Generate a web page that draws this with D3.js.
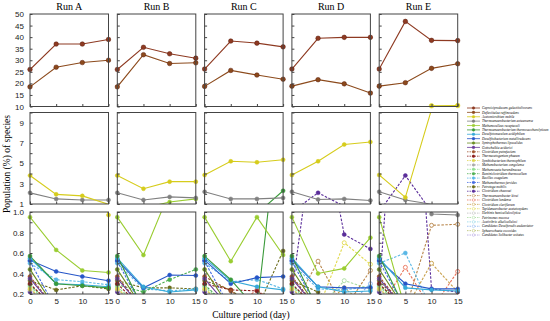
<!DOCTYPE html>
<html>
<head>
<meta charset="utf-8">
<script src="https://cdn.jsdelivr.net/npm/d3@7"></script>
<style>
  body { margin: 0; background: #fff; }
  svg { display: block; }
</style>
</head>
<body>
<div id="chart"></div>
<script>
// chart data
var runs = ['Run A', 'Run B', 'Run C', 'Run D', 'Run E'];
var days = [0, 5, 10, 15];

var species = [
  'Caproiciproducens galactitolivorans', 'Defluviitalea raffinosedens', 'Acetomicrobium mobile',
  'Thermoanaerobacterium aotearoense', 'Methanoculleus receptaculi', 'Thermoanaerobacterium thermosaccharolyticum',
  'Desulfotomaculum acidiphilum', 'Desulfitobacterium metallireducens', 'Syntrophothermus lipocalidus',
  'Gottschalkia acidurici', 'Clostridium putrefaciens', 'Thermacetogenium phaeum',
  'Symbiobacterium thermophilum', 'Methanobacterium congolense', 'Methanosaeta harundinacea',
  'Ruminiclostridium thermocellum', 'Bacillus coagulans', 'Methanothermus fervidus',
  'Petrotoga mobilis', 'Clostridium chauvoei', 'Thermoanaerobacter kivui',
  'Clostridium lundense', 'Clostridium clariflavum', 'Tepidanaerobacter acetatoxydans',
  'Herbinix hemicellulosilytica', 'Petrimonas mucosa', 'Acetivibrio alkalicellulosi',
  'Candidatus Desulforudis audaxviator', 'Sphaerochaeta coccoides', 'Candidatus Solibacter usitatus'
];

var colors = [
  '#8e3a22', '#8c4a1c', '#d6cc1c', '#808080', '#9acd32', '#3a9a3a', '#35a9d8', '#2656c8', '#6b8e23', '#6a3d9a',
  '#a0522d', '#8b1a1a', '#e0d44a', '#a9a9a9', '#90e090', '#4caf50', '#5bb8e6', '#4169e1', '#6b6b1a', '#5a2d9a',
  '#b8864b', '#e9735a', '#c8a04a', '#e2da50', '#bdbdbd', '#a8dca0', '#8fd4e6', '#8ab4f0', '#b4bc6a', '#b0a0e0'
];

// population (%) per species, days 0/5/10/15 ; 0.05 = below axis
var runA = [
  [26, 37, 37, 39], [18.5, 27, 29, 30], [3.8, 1.95, 1.8, 0.97], [2.1, 1.5, 1.4, 1.4],
  [0.95, 0.63, 0.43, 0.41], [0.57, 0.30, 0.28, 0.26], [0.55, 0.30, 0.29, 0.27], [0.53, 0.42, 0.37, 0.33],
  [0.44, 0.05, 0.05, 0.05], [0.35, 0.05, 0.05, 0.05], [0.37, 0.05, 0.05, 0.05], [0.30, 0.05, 0.05, 0.05],
  [0.25, 0.05, 0.05, 0.05], [0.24, 0.05, 0.05, 0.05], [0.27, 0.05, 0.05, 0.05], [0.29, 0.05, 0.05, 0.05],
  [0.50, 0.34, 0.32, 0.29], [0.52, 0.05, 0.05, 0.05], [0.33, 0.24, 0.28, 0.25], [0.22, 0.05, 0.05, 0.05],
  [0.05, 0.05, 0.05, 0.05], [0.05, 0.05, 0.05, 0.05], [0.05, 0.05, 0.05, 0.05], [0.05, 0.05, 0.05, 0.05],
  [0.05, 0.05, 0.05, 0.05], [0.05, 0.05, 0.05, 0.05], [0.05, 0.05, 0.05, 0.05], [0.05, 0.05, 0.05, 0.05],
  [0.05, 0.05, 0.05, 0.05], [0.05, 0.05, 0.05, 0.05]
];
var runB = [
  [26, 35.6, 32.8, 30.9], [18.5, 32.4, 28.6, 28.9], [3.8, 2.5, 3.2, 3.2], [2.1, 1.4, 1.7, 1.6],
  [0.95, 0.58, 1.2, 1.5], [0.57, 0.05, 0.05, 0.05], [0.55, 0.27, 0.22, 0.24], [0.53, 0.26, 0.385, 0.38],
  [0.44, 0.05, 0.05, 0.05], [0.35, 0.05, 0.05, 0.05], [0.37, 0.05, 0.05, 0.05], [0.30, 0.05, 0.05, 0.05],
  [0.25, 0.05, 0.05, 0.05], [0.24, 0.05, 0.05, 0.05], [0.27, 0.05, 0.05, 0.05], [0.29, 0.22, 0.34, 0.44],
  [0.50, 0.25, 0.23, 0.25], [0.52, 0.05, 0.05, 0.05], [0.33, 0.26, 0.26, 0.25], [0.22, 0.05, 0.05, 0.05],
  [0.05, 0.05, 0.05, 0.05], [0.05, 0.05, 0.05, 0.05], [0.05, 0.05, 0.05, 0.05], [0.05, 0.05, 0.05, 0.05],
  [0.05, 0.05, 0.05, 0.05], [0.05, 0.05, 0.05, 0.05], [0.05, 0.05, 0.05, 0.05], [0.05, 0.05, 0.05, 0.05],
  [0.05, 0.05, 0.05, 0.05], [0.05, 0.05, 0.05, 0.05]
];
var runC = [
  [26.2, 38.3, 37.4, 35.8], [18.7, 25.6, 23.6, 21.8], [3.85, 5.2, 5.1, 5.35], [2.2, 1.5, 1.5, 1.6],
  [0.95, 0.52, 0.95, 0.58], [0.57, 0.34, 0.05, 2.3], [0.55, 0.33, 0.27, 0.24], [0.53, 0.30, 0.36, 0.37],
  [0.44, 0.05, 0.05, 0.05], [0.35, 0.05, 0.05, 0.05], [0.37, 0.23, 0.05, 0.05], [0.30, 0.24, 0.23, 0.05],
  [0.25, 0.05, 0.05, 0.05], [0.24, 0.05, 0.05, 0.05], [0.27, 0.05, 0.05, 0.05], [0.29, 0.05, 0.05, 0.05],
  [0.50, 0.32, 0.34, 0.25], [0.52, 0.05, 0.05, 0.05], [0.33, 0.24, 0.05, 0.62], [0.22, 0.05, 0.05, 0.05],
  [0.05, 0.05, 0.05, 0.05], [0.05, 0.05, 0.24, 0.05], [0.05, 0.05, 0.05, 0.05], [0.05, 0.05, 0.05, 0.05],
  [0.05, 0.05, 0.05, 0.05], [0.05, 0.05, 0.05, 0.05], [0.05, 0.05, 0.05, 0.05], [0.05, 0.05, 0.05, 0.05],
  [0.05, 0.05, 0.05, 0.05], [0.05, 0.05, 0.05, 0.05]
];
var runD = [
  [26.2, 39.5, 39.9, 39.9], [18.8, 21.6, 19.8, 15.8], [3.85, 5.2, 6.85, 7.1], [2.2, 1.45, 1.5, 1.35],
  [0.95, 0.40, 0.45, 0.75], [0.57, 0.05, 0.05, 0.05], [0.55, 0.27, 0.22, 0.23], [0.53, 0.27, 0.26, 0.26],
  [0.44, 0.05, 0.05, 0.05], [0.35, 0.05, 0.05, 0.05], [0.37, 0.05, 0.05, 0.05], [0.30, 0.05, 0.05, 0.05],
  [0.25, 0.05, 0.05, 0.05], [0.24, 0.05, 0.05, 0.05], [0.27, 0.05, 0.05, 0.05], [0.29, 0.05, 0.05, 0.05],
  [0.50, 0.25, 0.24, 0.27], [0.52, 0.05, 0.05, 0.05], [0.33, 0.22, 0.05, 0.05], [0.22, 2.1, 0.78, 0.64],
  [0.05, 0.52, 0.05, 0.43], [0.05, 0.05, 0.05, 0.05], [0.05, 0.05, 0.26, 0.05], [0.05, 0.05, 0.70, 0.49],
  [0.05, 0.05, 0.05, 0.05], [0.05, 0.05, 0.33, 0.25], [0.05, 0.05, 0.05, 0.05], [0.05, 0.05, 0.05, 0.30],
  [0.05, 0.05, 0.05, 0.05], [0.05, 0.05, 0.05, 0.05]
];
var runE = [
  [26.2, 46.8, 38.6, 38.5], [18.8, 20.3, 26.5, 28.5], [3.85, 1.65, 10.3, 10.4], [2.2, 1.4, 0.98, 0.97],
  [0.95, 0.05, 0.05, 0.05], [0.57, 0.05, 0.05, 0.05], [0.55, 0.26, 0.24, 0.23], [0.53, 0.30, 0.25, 0.25],
  [0.44, 0.05, 0.05, 0.05], [0.35, 0.05, 0.05, 0.05], [0.37, 0.05, 0.05, 0.05], [0.30, 0.05, 0.05, 0.05],
  [0.25, 0.05, 0.05, 0.05], [0.24, 0.05, 0.05, 0.05], [0.27, 0.05, 0.05, 0.05], [0.29, 0.05, 0.05, 0.05],
  [0.50, 0.60, 0.05, 0.05], [0.52, 0.05, 0.05, 0.05], [0.33, 0.05, 0.05, 0.05], [0.22, 3.8, 0.25, 0.22],
  [0.05, 0.05, 0.87, 0.88], [0.05, 0.46, 0.05, 0.42], [0.05, 0.05, 0.50, 0.22], [0.05, 0.05, 0.05, 0.05],
  [0.05, 0.05, 0.05, 0.05], [0.05, 0.05, 0.05, 0.05], [0.05, 0.05, 0.05, 0.05], [0.05, 0.05, 0.05, 0.05],
  [0.05, 0.05, 0.05, 0.05], [0.05, 0.05, 0.05, 0.05]
];
var runData = [runA, runB, runC, runD, runE];

// broken y axis: three bands
var topTicks = [10, 15, 20, 25, 30, 35, 40, 45, 50];
var midTicks = [1, 2, 3, 4, 5, 6, 7, 8, 9, 10];
var midLabels = [1, 3, 5, 7, 9];
var lowTicks = [0.2, 0.3, 0.4, 0.5, 0.6, 0.7, 0.8, 0.9, 1.0];
var lowLabels = [0.2, 0.4, 0.6, 0.8, 1.0];

var W = 550, H = 321;
var panelW = 78.5, panelStep = 87.3, left = 30;
var bands = [
  {domain: [10, 50], top: 14, bottom: 106.5, ticks: topTicks, labels: topTicks, fmt: d3.format('d')},
  {domain: [1, 10], top: 112.5, bottom: 204, ticks: midTicks, labels: midLabels, fmt: d3.format('d')},
  {domain: [0.2, 1.0], top: 212, bottom: 294, ticks: lowTicks, labels: lowLabels, fmt: d3.format('.1f')}
];

function styleOf(k){
  if (k < 10) return {dash: null, hollow: false};
  if (k < 20) return {dash: '2.5,1.5', hollow: false};
  return {dash: '2.5,1.5', hollow: true};
}

var svg = d3.select('#chart').append('svg')
  .attr('width', W).attr('height', H)
  .style('font-family', "'Liberation Serif', 'Times New Roman', serif");

var defs = svg.append('defs');

runs.forEach(function(run, i){
  var px = left + i * panelStep;
  var x = d3.scaleLinear().domain([0, 15]).range([px, px + panelW]);

  svg.append('text')
    .attr('x', px + panelW / 2).attr('y', 10)
    .attr('text-anchor', 'middle')
    .attr('font-size', 10)
    .text(run);

  bands.forEach(function(b, bi){
    var y = d3.scaleLinear().domain(b.domain).range([b.bottom, b.top]);
    var id = 'clip' + i + '_' + bi;
    defs.append('clipPath').attr('id', id).append('rect')
      .attr('x', px).attr('y', b.top).attr('width', panelW).attr('height', b.bottom - b.top);
    defs.append('clipPath').attr('id', id + 'm').append('rect')
      .attr('x', px - 3).attr('y', b.top - 3).attr('width', panelW + 6).attr('height', b.bottom - b.top + 6);

    var lg = svg.append('g').attr('clip-path', 'url(#' + id + ')');
    var mg = svg.append('g').attr('clip-path', 'url(#' + id + 'm)');
    var line = d3.line().x(function(d, j){ return x(days[j]); }).y(function(d){ return y(d); });

    // draw series in reverse so the first ones sit on top
    for (var k = species.length - 1; k >= 0; k--){
      var vals = runData[i][k];
      var st = styleOf(k);
      lg.append('path')
        .datum(vals)
        .attr('d', line)
        .attr('fill', 'none')
        .attr('stroke', colors[k])
        .attr('stroke-width', 1.1)
        .attr('stroke-dasharray', st.dash);
      mg.selectAll(null)
        .data(vals.map(function(v, j){ return {v: v, j: j}; })
          .filter(function(d){ return d.v >= b.domain[0] - 0.001 && d.v <= b.domain[1] + 0.001; }))
        .enter().append('circle')
        .attr('cx', function(d){ return x(days[d.j]); })
        .attr('cy', function(d){ return y(d.v); })
        .attr('r', bi === 0 ? 2.3 : 2)
        .attr('fill', st.hollow ? '#fff' : colors[k])
        .attr('stroke', k < 2 ? '#5a1c0c' : colors[k])
        .attr('stroke-width', st.hollow ? 0.9 : 0.5);
    }

    // frame
    svg.append('rect')
      .attr('x', px).attr('y', b.top)
      .attr('width', panelW).attr('height', b.bottom - b.top)
      .attr('fill', 'none').attr('stroke', '#444').attr('stroke-width', 1);

    // y ticks (inward), labels on first column only
    var ya = svg.append('g').attr('transform', 'translate(' + px + ',0)')
      .call(d3.axisLeft(y).tickValues(b.ticks).tickSize(-2.5).tickPadding(6)
        .tickFormat(function(d){ return (i === 0 && b.labels.indexOf(d) >= 0) ? b.fmt(d) : ''; }));
    ya.select('.domain').remove();
    ya.selectAll('line').attr('stroke', '#444');
    ya.selectAll('text').attr('font-size', 8).attr('font-family', null).attr('fill', '#222');

    // x ticks (inward), labels on bottom band only
    var xa = svg.append('g').attr('transform', 'translate(0,' + b.bottom + ')')
      .call(d3.axisBottom(x).tickValues(days).tickSize(-2.5).tickPadding(4)
        .tickFormat(function(d){ return bi === 2 ? d : ''; }));
    xa.select('.domain').remove();
    xa.selectAll('line').attr('stroke', '#444');
    xa.selectAll('text').attr('font-size', 8).attr('font-family', null).attr('fill', '#222');
  });
});

// axis titles
svg.append('text')
  .attr('transform', 'translate(10,164) rotate(-90)')
  .attr('text-anchor', 'middle')
  .attr('font-size', 9.5)
  .text('Population (%) of species');

svg.append('text')
  .attr('x', 251).attr('y', 318)
  .attr('text-anchor', 'middle')
  .attr('font-size', 9.5)
  .text('Culture period (day)');

// legend
var legend = svg.append('g').attr('transform', 'translate(467,108)');
species.forEach(function(name, k){
  var st = styleOf(k);
  var row = legend.append('g').attr('transform', 'translate(0,' + (k * 4.38) + ')');
  row.append('line')
    .attr('x1', 0).attr('x2', 13)
    .attr('stroke', colors[k]).attr('stroke-width', 0.8)
    .attr('stroke-dasharray', st.dash ? '1.5,1' : null);
  row.append('circle')
    .attr('cx', 6.5).attr('r', 1.3)
    .attr('fill', st.hollow ? '#fff' : colors[k])
    .attr('stroke', colors[k]).attr('stroke-width', 0.5);
  row.append('text')
    .attr('x', 15).attr('dy', '0.35em')
    .attr('font-size', 3.4)
    .attr('font-style', 'italic')
    .text(name);
});
</script>
</body>
</html>
